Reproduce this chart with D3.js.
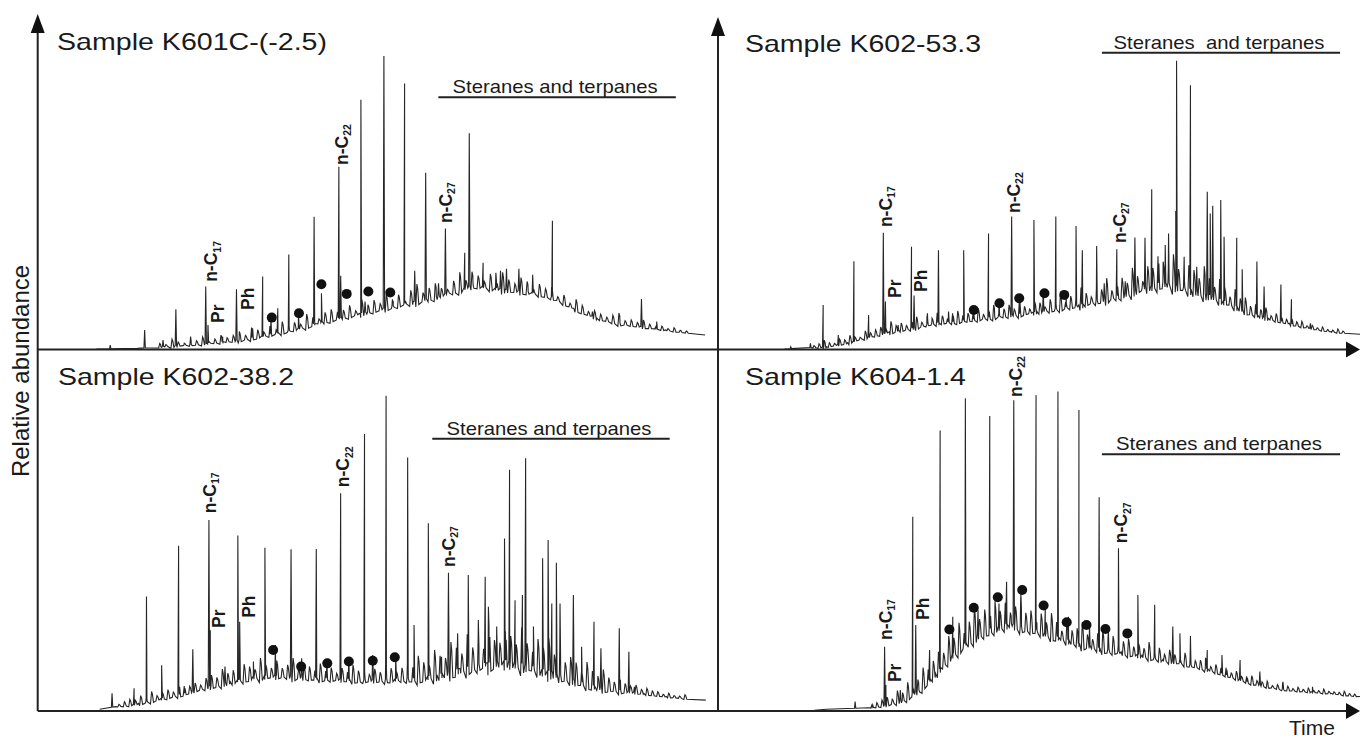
<!DOCTYPE html>
<html><head><meta charset="utf-8">
<script src="https://cdn.jsdelivr.net/npm/d3@7"></script>
<style>
body{margin:0;background:#fff}
svg{display:block}
text{font-family:"Liberation Sans",Arial,Helvetica,sans-serif;fill:#1a1a1a}
</style>
</head><body><svg id="c" width="1360" height="739"></svg>
<script>
// ---------------- DATA ----------------
const sampleNames = ["Sample K601C-(-2.5)", "Sample K602-53.3", "Sample K602-38.2", "Sample K604-1.4"];
const xAxisLabel = "Time";
const yAxisLabel = "Relative abundance";
const biomarkerLabels = ["Steranes and terpanes", "Steranes  and terpanes", "Steranes and terpanes", "Steranes and terpanes"];

// hump (unresolved complex mixture) envelope: [time, abundance]
const humpK601C = [[8.63,0],[14.7,0.2],[18.1,0.7],[21.5,1.2],[24.8,1.7],[29.6,2.7],[34.96,4.7],[38.3,6.2],[41.7,8.2],[48.5,11.2],[55.2,14.2],[58.6,15.7],[61.96,17.9],[64.0,19.2],[68.7,17.9],[72.1,17.2],[75.5,15.7],[78.8,12.2],[82.2,9.2],[85.6,7.7],[88.97,6.7],[92.3,5.7],[98.1,4.2]];
const humpK602a = [[10.35,0],[16.9,0.7],[20.2,1.9],[23.5,3.7],[26.7,5.2],[30.0,6.2],[33.3,7.7],[36.6,8.2],[43.1,9.7],[49.7,11.2],[56.2,13.2],[62.8,16.2],[66.05,18.2],[69.3,20.2],[71.3,19.2],[75.9,16.7],[79.2,14.2],[82.4,11.2],[85.7,9.2],[89.0,7.7],[92.3,6.2],[95.5,5.2],[100,4.4]];
const humpK602b = [[9.11,0.5],[11.47,1.2],[14.84,2.1],[18.2,3.5],[21.6,4.9],[24.96,6.7],[28.3,8.1],[31.7,9.5],[35.1,10.0],[41.8,9.1],[48.6,8.6],[55.3,9.1],[58.7,10.0],[62.1,11.8],[65.4,13.2],[68.8,14.1],[72.2,12.7],[75.6,10.9],[78.9,8.6],[82.3,6.7],[85.7,5.8],[89.1,4.9],[92.4,4.0],[98.2,3.0]];
const humpK604 = [[15.0,0.2],[16.9,0.5],[23.5,0.9],[26.1,1.7],[28.7,3.0],[31.3,5.8],[33.9,10.4],[36.6,16.0],[39.8,20.6],[43.1,23.4],[45.7,24.3],[49.7,22.4],[52.9,20.6],[56.2,18.8],[59.5,17.4],[62.8,16.4],[66.05,15.5],[69.3,14.3],[72.6,13.2],[75.9,11.8],[79.2,10.0],[82.4,8.1],[85.7,6.7],[89.0,5.8],[92.3,5.3],[95.5,4.9],[100,4.0]];

// resolved peaks: [time, apex abundance]
const peaksK601C = [[10.66,1.2],[15.72,5.7],[18.42,2.7],[20.31,11.9],[22.47,3.7],[24.70,18.7],[25.03,7.2],[27.19,3.7],[29.22,17.9],[31.59,6.2],[33.07,21.7],[34.28,9.7],[35.29,12.2],[36.91,28.3],[38.34,10.2],[40.63,39.6],[41.71,16.7],[44.27,54.6],[44.54,21.9],[47.51,74.6],[48.12,14.2],[50.89,87.7],[52.17,14.2],[53.93,79.5],[55.42,23.4],[57.03,52.8],[58.92,19.7],[59.93,36.1],[62.77,28.8],[63.44,64.6],[65.47,25.8],[67.35,22.8],[68.03,23.4],[68.91,24.0],[70.73,24.0],[72.76,22.2],[75.66,38.4],[81.54,11.2],[88.75,15.0],[90.99,8.2]];
const peaksK602a = [[11.34,0.7],[14.4,1.7],[16.38,13.2],[18.74,4.2],[21.17,26.3],[23.46,10.2],[25.75,34.8],[26.08,14.2],[28.05,7.2],[30.14,30.6],[30.54,16.0],[32.63,10.7],[34.34,29.6],[35.91,11.2],[38.27,29.6],[39.84,12.7],[42.14,34.6],[43.77,14.7],[45.74,39.7],[47.05,14.7],[49.21,38.6],[50.66,17.7],[52.62,39.7],[54.26,16.7],[55.77,36.8],[56.75,29.6],[58.98,30.8],[60.16,19.7],[62.12,29.9],[63.43,20.3],[64.94,33.4],[66.51,33.3],[67.56,47.8],[68.67,25.6],[69.66,31.1],[70.18,34.6],[71.3,41.3],[71.43,86.3],[72.61,27.6],[73.59,79.0],[74.57,24.6],[76.21,47.1],[76.67,40.6],[77.06,42.9],[78.31,44.6],[78.83,33.6],[80.8,33.3],[81.65,23.9],[83.94,26.2],[85.06,18.7],[87.68,19.3],[89.32,14.9],[92.27,7.7]];
const peaksK602b = [[10.93,4.9],[14.17,6.3],[15.99,31.7],[18.22,12.7],[20.71,45.8],[22.8,17.1],[25.17,52.9],[25.37,22.4],[27.53,12.3],[29.42,48.6],[29.69,24.7],[31.71,13.7],[33.4,45.2],[34.95,18.3],[37.24,44.8],[38.8,14.6],[40.95,44.9],[42.5,14.1],[44.53,60.3],[45.74,14.6],[48.04,76.7],[49.25,15.5],[51.21,87.3],[52.63,15.5],[54.38,70.2],[55.32,23.8],[57.42,52.0],[59.37,15.0],[60.38,38.3],[61.73,21.5],[63.29,37.7],[64.77,25.2],[65.78,37.2],[66.25,28.9],[67.47,23.4],[68.62,47.8],[69.36,66.8],[70.17,30.7],[71.25,32.1],[71.72,70.0],[72.87,23.4],[74.22,42.3],[75.03,47.4],[75.57,29.8],[76.24,41.1],[76.78,29.8],[78.74,32.1],[79.95,17.8],[81.77,24.7],[82.79,17.4],[85.49,22.9],[86.9,16.4],[87.71,6.7]];
const peaksK604 = [[21.36,2.6],[24.1,1.7],[25.95,17.8],[26.15,7.2],[28.4,5.8],[30.34,53.8],[30.8,23.8],[32.96,16.9],[34.6,77.7],[36.57,26.1],[38.53,86.6],[40.5,28.0],[42.33,81.7],[43.77,29.8],[44.95,35.8],[46.07,86.1],[47.18,32.6],[49.54,87.5],[50.98,28.9],[52.95,88.5],[54.59,26.1],[56.22,83.4],[57.86,24.3],[59.37,59.2],[60.81,22.4],[62.38,45.1],[65.4,32.1],[68.02,29.4],[70.84,23.4],[71.95,21.5],[73.59,20.8],[76.21,16.9],[78.5,15.5],[81.32,14.1],[84.4,10.9],[88.0,8.1],[92.6,6.7]];

// baseline noise: heights above the hump, sampled at a fixed interval
const noiseStart = [18, 15, 12, 24];
const noiseStep = [0.9, 0.8, 0.8, 0.8];
const noiseK601C = [1,0.5,2,1,0.5,1.5,1,2,0.5,1,2,1,1.5,2.5, 1,3,2,1,2.5,1,3,1.5,2,1,3.5,2,1,2.5,3,1.5, 2,3,1,4,2,3,1.5,4,2,3,1,3.5,5,2,3,4,2,1,3,5,2,4,3,1.5,4,2,5,3,2,4,3,1,3, 2,3,1,2.5,1,3,2,1,2,1.5,1,2,3,1,1.5,1,2,1,0.5, 1,0.5,1,0.5,0.5];
const noiseK602a = [0.5,1,2,1,0.5,1.5,1,2,1,0.5,2,1,1.5, 2,1,3,1.5,2,1,2.5,3,1,2,1.5,3,2,1,2.5,3,1.5,2, 2,3,1,2.5,3.5,1,2,3,1.5,4,2,1,3,2.5,1,3,2,4,1.5, 3,2,5,3,1.5,4,3,6,2,4,5,3,7,4,2,6,5,8, 6,4,9,5,3,7,6,4,8,5,3,6,4,2,5,3,4,2,3, 2,3,1,2,1.5,1,2,1,1.5,0.5,1,0.5,1,0.5,0.5,1,0.5];
const noiseK602b = [0.5,1,1.5,1,2,1,2.5,1,1.5,2,1,3,2,1.5,2,1,2.5, 3,2,4,2.5,3,1.5,4,3,2,5,3,2,4,2,3,5,2,3, 3,2,4,2,3,1.5,3,2,4,2.5,3,1.5,3,2,4,3,2,3, 4,3,6,4,3,7,5,4,8,6,4,9,5,7,4,10,6,5,8, 7,5,10,6,4,8,6,9,5,7,4,6,5,3,6,4,3,5, 3,2,4,2,1.5,2,1,1.5,1,1,0.5,1,0.5,0.5,1];
const noiseK604 = [0.5,1,1.5,2,1,3,2,4,2,3,5,3,4, 5,3,6,4,7,3,5,8,4,6,5,7,4,6,3,5,7,4,5,3, 5,3,6,4,2,5,3,4,6,3,2,4,5,3,4,2,3,4,2, 3,2,4,2,3,1.5,3,2,1,3,2,1.5,2,3,1,2,1.5,2,1, 2,1,1.5,2,1,1,1.5,0.5,1,1.5,1,0.5,1,0.5,1,0.5,0.5,1,0.5,0.5,0.5,1,0.5,0.5];

// compounds marked with a dot: [time, abundance]
const dotsK601C = [[34.41,9.4],[38.40,10.7],[41.70,19.4],[45.42,16.5],[48.60,17.2],[51.83,16.9]];
const dotsK602a = [[39.84,11.7],[43.84,13.7],[46.92,15.2],[50.85,16.7],[53.93,16.2]];
const dotsK602b = [[34.61,16.9],[38.73,12.3],[42.57,13.2],[45.74,13.7],[49.25,13.9],[52.49,14.9]];
const dotsK604 = [[36.04,22.6],[39.84,28.6],[43.58,31.5],[47.38,33.5],[50.72,29.2],[54.32,24.6],[57.4,23.8],[60.35,22.7],[63.76,21.5]];

// compound labels: [name, subscript, time, abundance at label foot]
const labelsK601C = [["n-C","17",25.5,20.1],["Pr","",26.5,7.8],["Ph","",30.9,11.7],["n-C","22",44.7,55.1],["n-C","27",59.9,37.7]];
const labelsK602a = [["n-C","17",26.1,36.5],["Pr","",27.5,15.3],["Ph","",31.6,17.1],["n-C","22",46.1,40.7],["n-C","27",62.5,31.7]];
const labelsK602b = [["n-C","17",25.3,54.8],["Pr","",26.65,23.0],["Ph","",31.0,25.8],["n-C","22",44.9,62.0],["n-C","27",60.4,39.9]];
const labelsK604 = [["n-C","17",26.1,19.7],["Pr","",27.5,8.0],["Ph","",31.9,25.2],["n-C","22",46.4,87.0],["n-C","27",62.8,46.5]];

// biomarker range bars: [start time, end time, abundance]
const biomarkerRanges = [[58.9,93.8,75.4],[59.8,96.9,88.7],[58.0,92.9,75.4],[59.8,96.9,71.1]];

// ---------------- LAYOUT ----------------
const svg = d3.select("#c");
const XL = 37.7, XM = 718, XR = 1360, YT = 349.5, YB = 711;
const panels = [
  {name:sampleNames[0], hump:humpK601C, peaks:peaksK601C, noise:noiseK601C, dots:dotsK601C, labels:labelsK601C, x:[XL,XM], y:[349,15], title:[57,50], tw:270, bio:biomarkerLabels[0], range:biomarkerRanges[0], bw:205},
  {name:sampleNames[1], hump:humpK602a, peaks:peaksK602a, noise:noiseK602a, dots:dotsK602a, labels:labelsK602a, x:[XM,XR], y:[349,15], title:[745,52], tw:236, bio:biomarkerLabels[1], range:biomarkerRanges[1], bw:211},
  {name:sampleNames[2], hump:humpK602b, peaks:peaksK602b, noise:noiseK602b, dots:dotsK602b, labels:labelsK602b, x:[XL,XM], y:[711,350], title:[58,385], tw:236, bio:biomarkerLabels[2], range:biomarkerRanges[2], bw:205},
  {name:sampleNames[3], hump:humpK604, peaks:peaksK604, noise:noiseK604, dots:dotsK604, labels:labelsK604, x:[XM,XR], y:[711,350], title:[745,385], tw:221, bio:biomarkerLabels[3], range:biomarkerRanges[3], bw:206}
];

function baseFn(hump){
  return t => {
    if (t <= hump[0][0]) return hump[0][1];
    for (let i = 1; i < hump.length; i++) {
      if (t <= hump[i][0]) {
        const [t0,a0] = hump[i-1], [t1,a1] = hump[i];
        return a0 + (a1-a0)*(t-t0)/(t1-t0);
      }
    }
    return hump[hump.length-1][1];
  };
}

panels.forEach((p, idx) => {
  const xs = d3.scaleLinear().domain([0,100]).range(p.x);
  const ys = d3.scaleLinear().domain([0,100]).range(p.y);
  const base = baseFn(p.hump);
  const tEnd = p.hump[p.hump.length-1][0];
  const pts = p.hump.map(d => [d[0], d[1]]);
  const w = 0.1, nw = 0.22;
  p.peaks.forEach(([t,a]) => { pts.push([t-w, base(t-w)], [t, a], [t+w, base(t+w)]); });
  p.noise.forEach((h,i) => {
    const t = noiseStart[idx] + i*noiseStep[idx];
    if (t > tEnd) return;
    // spike with shallow valleys on either side for a ragged trace
    pts.push([t-nw, Math.max(0, base(t-nw) - 0.35*h)], [t-0.06, base(t)+h], [t+0.06, base(t)+0.7*h], [t+nw, Math.max(0, base(t+nw) - 0.25*h)]);
  });
  pts.sort((a,b) => a[0]-b[0]);
  const g = svg.append("g");
  g.append("path")
    .attr("d", d3.line().x(d => xs(d[0])).y(d => ys(d[1]))(pts))
    .attr("fill","none").attr("stroke","#262626").attr("stroke-width",1.1).attr("stroke-linejoin","miter");

  g.selectAll("circle").data(p.dots).join("circle")
    .attr("cx", d => xs(d[0])).attr("cy", d => ys(d[1])).attr("r", 5).attr("fill","#111");

  p.labels.forEach(([nm, sub, t, a]) => {
    const tx = g.append("text")
      .attr("transform", `translate(${xs(t)},${ys(a)}) rotate(-90)`)
      .attr("dy","0.36em")
      .style("font-size","17.5px").style("font-weight","bold");
    tx.append("tspan").text(nm);
    if (sub) tx.append("tspan").attr("dy","0.3em").style("font-size","10.5px").text(sub);
  });

  g.append("text").attr("x", p.title[0]).attr("y", p.title[1])
    .style("font-size","24px").attr("textLength", p.tw).attr("lengthAdjust","spacingAndGlyphs")
    .text(p.name);

  const [r0, r1, ra] = p.range;
  g.append("line").attr("x1", xs(r0)).attr("x2", xs(r1)).attr("y1", ys(ra)).attr("y2", ys(ra))
    .attr("stroke","#222").attr("stroke-width",2);
  g.append("text").attr("x", (xs(r0)+xs(r1))/2 - 2).attr("y", ys(ra) - 4)
    .attr("text-anchor","middle").style("font-size","19px").style("white-space","pre")
    .attr("textLength", p.bw).attr("lengthAdjust","spacingAndGlyphs")
    .text(p.bio);
});

// axes
const ax = svg.append("g").attr("stroke","#222").attr("stroke-width",2);
ax.append("line").attr("x1",XL).attr("x2",XL).attr("y1",YB).attr("y2",30);
ax.append("line").attr("x1",XM).attr("x2",XM).attr("y1",YB).attr("y2",33);
ax.append("line").attr("x1",XL).attr("x2",XR-12).attr("y1",YT).attr("y2",YT);
ax.append("line").attr("x1",XL).attr("x2",XR-12).attr("y1",YB).attr("y2",YB);
const heads = [
  [[XL,14],[XL-7,33],[XL+7,33]],
  [[XM,17],[XM-7,36],[XM+7,36]],
  [[XR,YT],[XR-14,YT-8],[XR-14,YT+8]],
  [[XR,YB],[XR-14,YB-8],[XR-14,YB+8]]
];
svg.selectAll("polygon.h").data(heads).join("polygon").attr("class","h")
  .attr("points", d => d.map(q => q.join(",")).join(" ")).attr("fill","#111");

svg.append("text").attr("transform","translate(29,371) rotate(-90)").attr("text-anchor","middle")
  .style("font-size","24px").text(yAxisLabel);
svg.append("text").attr("x",1289).attr("y",735)
  .style("font-size","21px").text(xAxisLabel);
</script>
</body></html>
